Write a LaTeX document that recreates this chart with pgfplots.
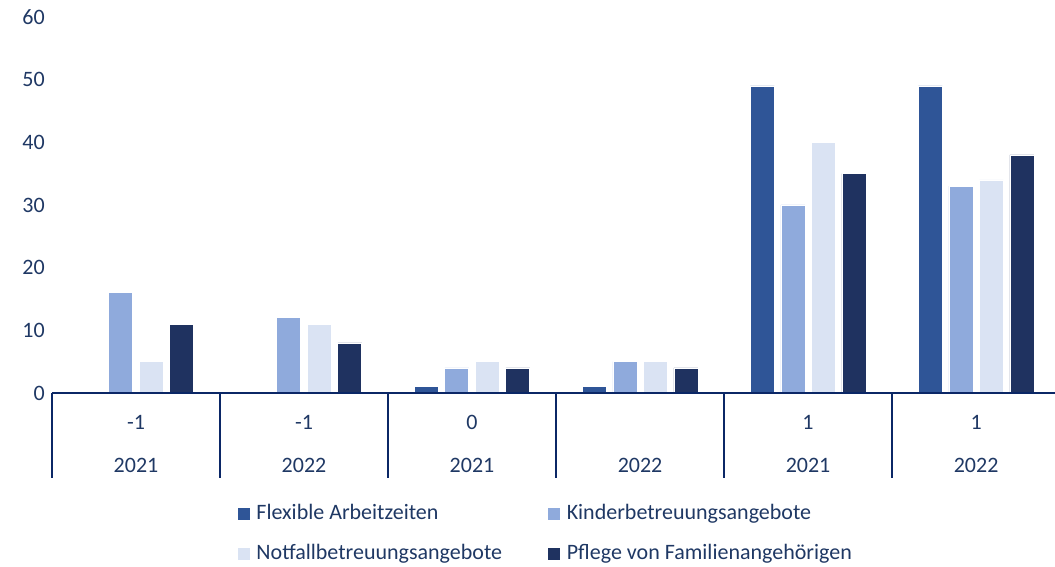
\documentclass[border=0pt]{standalone}
\usepackage{pgfplots}
\pgfplotsset{compat=1.18}
\usepackage{fontspec}
\setmainfont{Carlito}
\definecolor{cF}{HTML}{2F5597}
\definecolor{cK}{HTML}{8FAADC}
\definecolor{cN}{HTML}{DAE3F3}
\definecolor{cP}{HTML}{1F3260}
\definecolor{txt}{HTML}{1F3864}
\definecolor{axc}{HTML}{0B2766}
\pgfplotstableread{
x F K N P
0 0 16 5 11
1 0 12 11 8
2 1 4 5 4
3 1 5 5 4
4 49 30 40 35
5 49 33 34 38
}\datatable
\begin{document}
\begin{tikzpicture}[
  lbl/.style={text=txt, font=\fontsize{22}{26}\selectfont},
  sepl/.style={axc, line width=2pt}]
\path[use as bounding box] (-52pt,-174pt) rectangle (1003pt,393pt);
\begin{axis}[
  at={(0pt,0pt)}, anchor=south west,
  scale only axis, width=1003pt, height=376pt,
  xmin=-0.5, xmax=5.47, ymin=0, ymax=60,
  clip=false,
  axis line style={draw=none},
  major tick length=0pt,
  xtick=\empty,
  ytick={0,10,...,60},
  /pgf/number format/assume math mode=true,
  yticklabel style={font=\fontsize{22}{26}\selectfont, text=txt, inner sep=0pt, xshift=-7pt},
  ybar=6.5pt, bar width=24pt,
  every axis plot/.append style={draw=white, line width=0.6pt},
  legend columns=2,
  legend image code/.code={\fill[#1,draw=none] (0pt,0pt) rectangle (12pt,12pt); \path (18pt,0pt);},
  legend style={at={(0.1854,-0.297)}, anchor=north west, draw=none, fill=none,
    inner sep=0pt, font=\fontsize{22}{26}\selectfont, text=txt,
    nodes={inner sep=0pt, text height=15pt, text depth=5pt, anchor=base west},
    row sep=20pt, column sep=0pt},
  legend cell align=left,
]
\addplot[fill=cF] table[x=x,y=F]{\datatable};
\addlegendentry{\makebox[292pt][l]{Flexible Arbeitzeiten}}
\addplot[fill=cK] table[x=x,y=K]{\datatable};
\addlegendentry{Kinderbetreuungsangebote}
\addplot[fill=cN] table[x=x,y=N]{\datatable};
\addlegendentry{\makebox[292pt][l]{Notfallbetreuungsangebote}}
\addplot[fill=cP] table[x=x,y=P]{\datatable};
\addlegendentry{Pflege von Familienangehörigen}
\draw[sepl] (axis cs:-0.5,0) -- (axis cs:5.47,0);
\draw[sepl] (axis cs:-0.5,0) -- (axis cs:-0.5,-13.6);
\draw[sepl] (axis cs:0.5,0) -- (axis cs:0.5,-13.6);
\draw[sepl] (axis cs:1.5,0) -- (axis cs:1.5,-13.6);
\draw[sepl] (axis cs:2.5,0) -- (axis cs:2.5,-13.6);
\draw[sepl] (axis cs:3.5,0) -- (axis cs:3.5,-13.6);
\draw[sepl] (axis cs:4.5,0) -- (axis cs:4.5,-13.6);
\node[lbl] at (axis cs:0,-4.65) {-1};
\node[lbl] at (axis cs:1,-4.65) {-1};
\node[lbl] at (axis cs:2,-4.65) {0};
\node[lbl] at (axis cs:4,-4.65) {1};
\node[lbl] at (axis cs:5,-4.65) {1};
\node[lbl] at (axis cs:0,-11.5) {2021};
\node[lbl] at (axis cs:1,-11.5) {2022};
\node[lbl] at (axis cs:2,-11.5) {2021};
\node[lbl] at (axis cs:3,-11.5) {2022};
\node[lbl] at (axis cs:4,-11.5) {2021};
\node[lbl] at (axis cs:5,-11.5) {2022};
\end{axis}
\end{tikzpicture}
\end{document}
